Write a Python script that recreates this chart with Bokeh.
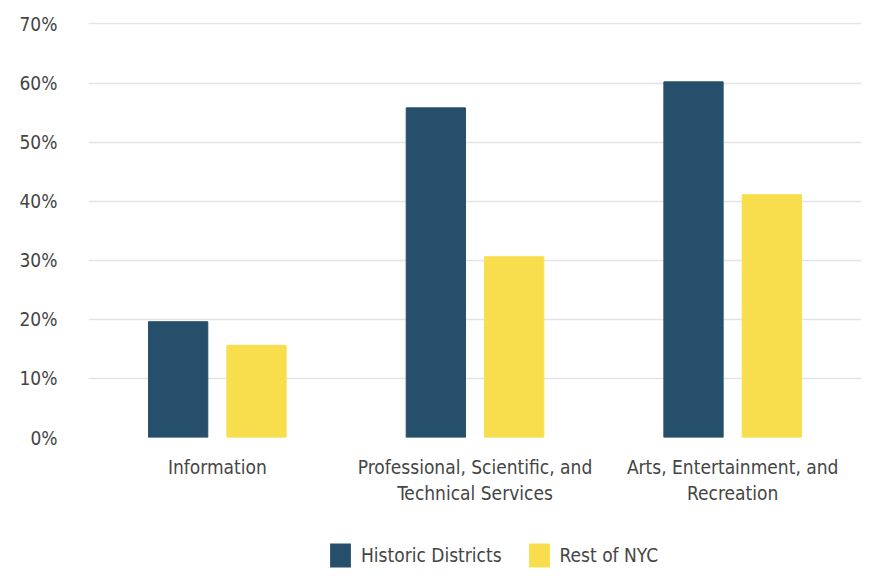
from bokeh.plotting import figure
from bokeh.layouts import column
from bokeh.models import ColumnDataSource, FactorRange, Legend, LegendItem, PrintfTickFormatter, FixedTicker, Range1d
from bokeh.transform import dodge
from bokeh.embed import file_html
from bokeh.resources import INLINE

categories = ["Information", "Professional, Scientific, and\nTechnical Services", "Arts, Entertainment, and\nRecreation"]
historic = [19.6, 55.8, 60.2]
rest_nyc = [15.6, 30.6, 41.1]
series_names = ["Historic Districts", "Rest of NYC"]
y_ticks = [0, 10, 20, 30, 40, 50, 60, 70]

FONT = "DejaVu Sans Condensed"
TXT = "#454545"
FS = "19px"
NAVY = "#264f6b"
YELLOW = "#f8de4d"

src = ColumnDataSource(dict(cat=categories, hd=historic, rn=rest_nyc))

p = figure(x_range=FactorRange(*categories), y_range=Range1d(0, 70.25),
           width=877, height=535,
           output_backend="svg", toolbar_location=None,
           min_border_left=88, min_border_right=16, min_border_top=22, min_border_bottom=98)

p.vbar(x=dodge("cat", -0.152, range=p.x_range), top="hd", width=0.23, source=src,
       fill_color=NAVY, line_color=NAVY)
p.vbar(x=dodge("cat", 0.152, range=p.x_range), top="rn", width=0.23, source=src,
       fill_color=YELLOW, line_color=YELLOW)

p.outline_line_color = None
p.xgrid.grid_line_color = None
p.ygrid.grid_line_color = "#e4e4e4"
p.ygrid.grid_line_width = 1.5

p.yaxis.ticker = FixedTicker(ticks=y_ticks)
p.yaxis.formatter = PrintfTickFormatter(format="%d%%")
for ax in (p.xaxis, p.yaxis):
    ax.axis_line_color = None
    ax.major_tick_line_color = None
    ax.minor_tick_line_color = None
    ax.major_label_text_font = FONT
    ax.major_label_text_font_size = FS
    ax.major_label_text_color = TXT
p.yaxis.major_label_standoff = 25
p.xaxis.major_label_standoff = 12

# legend strip below the chart (its bars lie far outside its own view; only the legend shows)
lg = figure(x_range=FactorRange(*categories), y_range=Range1d(1000, 1010),
            width=877, height=40, output_backend="svg", toolbar_location=None,
            x_axis_type=None, y_axis_type=None,
            min_border_left=88, min_border_right=16, min_border_top=0, min_border_bottom=0)
lg.outline_line_color = None
lg.xgrid.grid_line_color = None
lg.ygrid.grid_line_color = None
l1 = lg.vbar(x=dodge("cat", -0.152, range=lg.x_range), top="hd", width=0.23, source=src,
             fill_color=NAVY, line_color=NAVY, line_width=0)
l2 = lg.vbar(x=dodge("cat", 0.152, range=lg.x_range), top="rn", width=0.23, source=src,
             fill_color=YELLOW, line_color=YELLOW, line_width=0)

legend = Legend(items=[LegendItem(label=series_names[0], renderers=[l1]),
                       LegendItem(label=series_names[1], renderers=[l2])],
                orientation="horizontal", location=(239, 5),
                glyph_width=26, glyph_height=30, spacing=24, label_standoff=8,
                label_text_font=FONT, label_text_font_size=FS, label_text_color=TXT,
                border_line_color=None, background_fill_alpha=0, margin=0, padding=0)
lg.add_layout(legend, "center")

layout = column(p, lg, spacing=0)
open("out.html", "w").write(file_html(layout, INLINE))
